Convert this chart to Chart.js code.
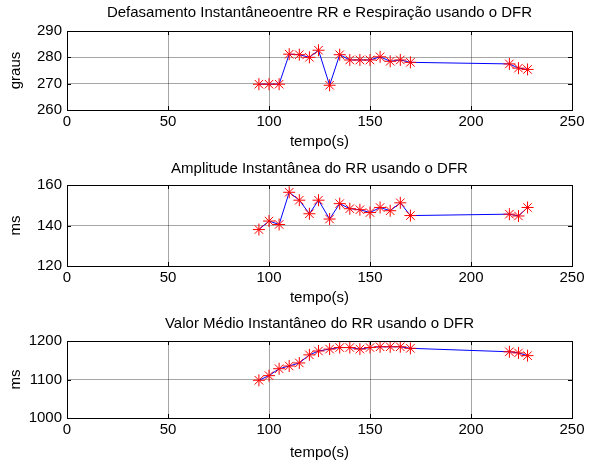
<!DOCTYPE html>
<html>
<head>
<meta charset="utf-8">
<script src="https://cdn.jsdelivr.net/npm/chart.js@4"></script>
<style>
  body { margin: 0; background: #fff; }
  .box { position: absolute; left: 0; width: 613px; }
</style>
</head>
<body>
<div class="box" id="b1" style="top:0px;height:153px"><canvas id="c1"></canvas></div>
<div class="box" id="b2" style="top:153px;height:156px"><canvas id="c2"></canvas></div>
<div class="box" id="b3" style="top:309px;height:155px"><canvas id="c3"></canvas></div>
<script>
// tempo (s) de cada ponto
const tempo = [95, 100, 105, 110, 115, 120, 124.5, 130, 135, 140, 145, 150, 155, 160, 165, 170, 219, 223.5, 228];
// defasamento (graus)
const defasamento = [269.8, 269.8, 269.8, 281.2, 281, 280, 282.7, 269.4, 281, 279, 279, 279, 280.2, 278.5, 279, 278.1, 277.5, 275.9, 275.4];
// amplitude (ms)
const amplitude = [138, 142.2, 140.5, 156.4, 152.5, 145.8, 152.5, 143.2, 150.8, 148.3, 147.8, 146.4, 148.9, 147.3, 151.2, 144.9, 145.6, 144.7, 148.9];
// valor medio (ms)
const valorMedio = [1098, 1110, 1128, 1135, 1143, 1164, 1174, 1179, 1183, 1183, 1179, 1183, 1185, 1185, 1185, 1181, 1172, 1169, 1162];

const xTicks = [0, 50, 100, 150, 200, 250];
const font = { family: 'Liberation Sans, Arial, sans-serif', size: 15 };

// moldura e marcas internas estilo matlab
const boxPlugin = {
  id: 'boxPlugin',
  afterDraw(chart) {
    const { ctx, chartArea: a } = chart;
    const xs = chart.scales.x, ys = chart.scales.y;
    ctx.save();
    ctx.strokeStyle = '#000';
    ctx.lineWidth = 1;
    ctx.beginPath();
    xs.ticks.forEach(t => {
      const px = Math.round(xs.getPixelForValue(t.value)) + 0.5;
      ctx.moveTo(px, a.bottom); ctx.lineTo(px, a.bottom - 4);
      ctx.moveTo(px, a.top); ctx.lineTo(px, a.top + 4);
    });
    ys.ticks.forEach(t => {
      const py = Math.round(ys.getPixelForValue(t.value)) + 0.5;
      ctx.moveTo(a.left, py); ctx.lineTo(a.left + 4, py);
      ctx.moveTo(a.right, py); ctx.lineTo(a.right - 4, py);
    });
    ctx.stroke();
    ctx.strokeRect(Math.round(a.left) + 0.5, Math.round(a.top) + 0.5,
      Math.round(a.right - a.left), Math.round(a.bottom - a.top));
    ctx.restore();
  }
};

function makeChart(id, title, yLabel, values, yMin, yMax, yStep, opts) {
  const ctx = document.getElementById(id).getContext('2d');
  return new Chart(ctx, {
    type: 'line',
    data: {
      datasets: [{
        data: tempo.map((t, i) => ({ x: t, y: values[i] })),
        borderColor: '#0000ff',
        borderWidth: 1,
        pointStyle: 'star',
        pointRadius: 6,
        pointBorderColor: '#ff0000',
        pointBackgroundColor: '#ff0000',
        pointBorderWidth: 1,
        tension: 0
      }]
    },
    options: {
      responsive: true,
      maintainAspectRatio: false,
      animation: false,
      layout: { padding: { top: opts.padTop, right: 41, left: 0, bottom: 0 } },
      plugins: {
        legend: { display: false },
        tooltip: { enabled: false },
        title: {
          display: true,
          fullSize: false,
          text: title,
          color: '#000',
          font: { ...font, weight: 'normal' },
          padding: { top: 0, bottom: opts.titleBottom }
        }
      },
      scales: {
        x: {
          type: 'linear',
          min: 0, max: 250,
          afterBuildTicks: s => { s.ticks = xTicks.map(v => ({ value: v })); },
          afterFit: s => { s.height = opts.xHeight; },
          ticks: { color: '#000', font, padding: 3, maxRotation: 0, callback: v => String(v) },
          grid: { color: 'rgba(0,0,0,0.35)', drawTicks: false },
          border: { color: '#000' },
          title: { display: true, text: 'tempo(s)', color: '#000', font, padding: { top: 0, bottom: 2 } }
        },
        y: {
          min: yMin, max: yMax,
          afterFit: s => { s.width = 67; },
          ticks: { stepSize: yStep, color: '#000', font, padding: 5, callback: v => String(v) },
          grid: { color: 'rgba(0,0,0,0.35)', drawTicks: false },
          border: { color: '#000' },
          title: { display: true, text: yLabel, color: '#000', font, padding: { top: 7, bottom: 0 } }
        }
      }
    },
    plugins: [boxPlugin]
  });
}

makeChart('c1', 'Defasamento Instantâneoentre RR e Respiração usando o DFR', 'graus',
  defasamento, 260, 290, 10, { padTop: 4, titleBottom: 9, xHeight: 43 });
makeChart('c2', 'Amplitude Instantânea do RR usando o DFR', 'ms',
  amplitude, 120, 160, 20, { padTop: 7, titleBottom: 7, xHeight: 43 });
makeChart('c3', 'Valor Médio Instantâneo do RR usando o DFR', 'ms',
  valorMedio, 1000, 1200, 100, { padTop: 6, titleBottom: 8, xHeight: 46 });
</script>
</body>
</html>
